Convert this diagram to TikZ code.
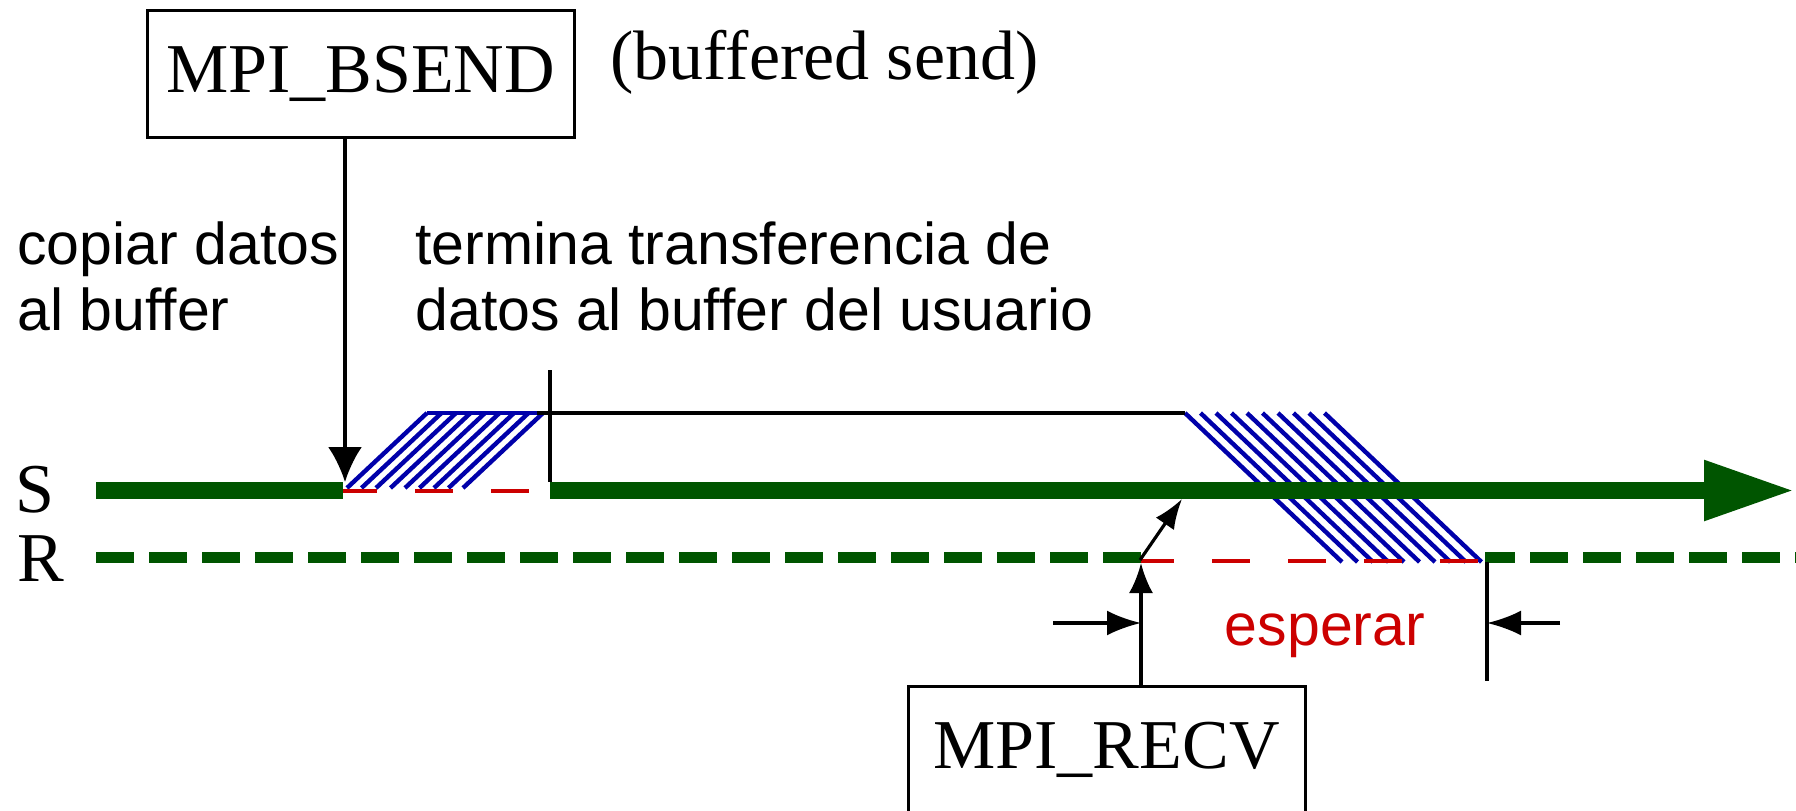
\documentclass[tikz,border=0pt]{standalone}
\usepackage{fontspec}
\setmainfont{Liberation Serif}
\setsansfont{Liberation Sans}
\usetikzlibrary{arrows.meta,positioning}
\definecolor{sendgreen}{HTML}{005500}
\definecolor{hatchblue}{HTML}{0000AA}
\definecolor{waitred}{HTML}{CC0000}

\begin{document}
\begin{tikzpicture}[x=0.5pt,y=-0.5pt, >=Latex, every node/.style={inner sep=0pt}, callbox/.style={draw,line width=1.5pt,minimum height=63.5pt,font=\fontsize{35}{40}\selectfont}, serif/.style={font=\fontsize{35}{40}\selectfont}, note/.style={font=\sffamily\fontsize{29.5}{33}\selectfont,align=left,anchor=base west}, tick/.style={line width=1.6pt}, hatch/.style={hatchblue,line width=2.2pt}, sline/.style={sendgreen,line width=8.75pt}, rline/.style={sendgreen,line width=5.5pt,dash pattern=on 19pt off 7.5pt}, wline/.style={waitred,line width=2pt,dash pattern=on 19pt off 19pt}]
\useasboundingbox (0,0) rectangle (1796,810);
% boxes and labels
\node[callbox,minimum width=213.5pt] (bsend) at (360.5,73.5) {MPI\_BSEND};
\node[serif,anchor=base west] (bmode) at (610,79) {(buffered send)};
\node[callbox,minimum width=198.5pt] (recv) at (1106.5,749.5) {MPI\_RECV};
\node[note] (copy) at (17,330) {copiar datos\\al buffer};
\node[note] (done) at (415,330) {termina transferencia de\\datos al buffer del usuario};
\node[serif] (slabel) at (35,490) {S};
\node[serif] (rlabel) at (41,559) {R};
\node[font=\sffamily\fontsize{29.5}{33}\selectfont,text=waitred] (wait) at (1325,636) {esperar};
% time points
\coordinate (s0) at (96,490.5); \coordinate (sgap) at (343,490.5); \coordinate (sres) at (550,490.5); \coordinate (send) at (1795,490.5);
\coordinate (r0) at (96,557); \coordinate (rwait) at (1141,557); \coordinate (rdone) at (1485,557); \coordinate (rend) at (1796,557);
\coordinate (bhit) at (345,482); \coordinate (ttop) at (550,370); \coordinate (tbot) at (550,482);
\coordinate (hl) at (537,413); \coordinate (hr) at (1185,413);
\coordinate (rtip) at (1141,563); \coordinate (qtop) at (1487,562); \coordinate (qbot) at (1487,681);
\coordinate (ptail) at (1140,560); \coordinate (ptip) at (1182,499);
\coordinate (la) at (1053,623); \coordinate (lb) at (1141,623); \coordinate (ra) at (1560,623); \coordinate (rb) at (1487,623);
% hatched transfers
\foreach \i in {0,...,8} \draw[hatch] ({347+14.5*\i},488) -- ++(80,-75);
\draw[hatch] (427,413) -- (hl);
\foreach \i in {0,...,9} \draw[hatch] ({1185+15.5*\i},413) -- ++(157,149);
% time lines
\draw[sline] (s0) -- (sgap);
\draw[sline,-{Triangle[length=45.5pt,width=28pt]}] (sres) -- (send);
\draw[wline,dash phase=2pt] (343,491) -- (sres |- 0,491);
\draw[rline] (r0) -- (rwait);
\draw[wline,dash phase=2.5pt] (rwait |- 0,561) -- (rdone |- 0,561);
\draw[rline,dash phase=4pt] (rdone) -- (rend);
% markers
\draw[tick,-{Latex[length=17.5pt,width=17pt]}] (bsend.south -| bhit) -- (bhit);
\draw[tick] (ttop) -- (tbot); \draw[tick] (hl) -- (hr);
\draw[tick,-{Latex[length=15pt,width=11pt]}] (ptail) -- (ptip);
\draw[tick,-{Latex[length=15pt,width=12pt]}] (recv.north -| rtip) -- (rtip);
\draw[tick] (qtop) -- (qbot);
\draw[tick,-{Latex[length=17pt,width=12.5pt]}] (la) -- (lb);
\draw[tick,-{Latex[length=17pt,width=12.5pt]}] (ra) -- (rb);
\end{tikzpicture}
\end{document}
